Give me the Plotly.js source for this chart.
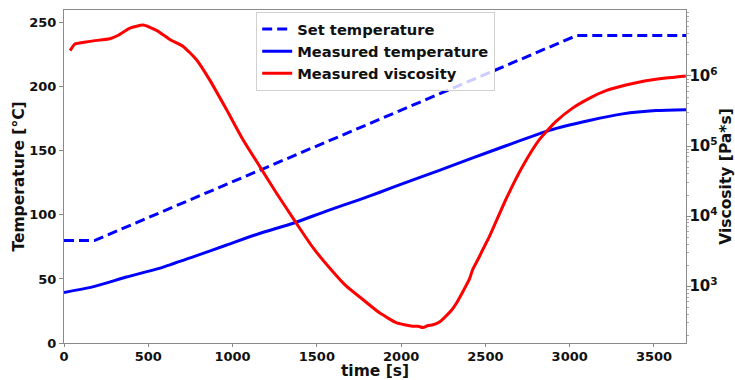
<!DOCTYPE html>
<html>
<head>
<meta charset="utf-8">
<script src="https://cdn.plot.ly/plotly-3.0.1.min.js"></script>
<style>
  html, body { margin: 0; padding: 0; background: #fff; }
  #chart { width: 735px; height: 380px; }
</style>
</head>
<body>
<div id="chart"></div>
<script>
// Set-point temperature program [s, °C]
const setTime = [0, 180, 3040, 3690];
const setTemp = [80, 80, 240, 240];

// Measured sample temperature [s, °C]
const measTime = [0, 175, 370, 570, 770, 965, 1160, 1360, 1556, 1754, 1870, 2010,
                  2227, 2425, 2622, 2879, 3116, 3314, 3512, 3690];
const measTemp = [39.5, 44, 51.5, 58.5, 67.5, 76.5, 85.5, 93.5, 103, 112, 117.5, 124.5,
                  134.8, 144.5, 154, 166, 173.7, 178.9, 181.5, 182.2];

// Measured complex viscosity [s, Pa*s]
const viscTime = [36, 65, 120, 174, 272, 322, 391, 470, 549, 628, 707, 786, 865, 964,
                  1062, 1161, 1260, 1378, 1477, 1576, 1675, 1773, 1872, 1971, 2020,
                  2069, 2100, 2129, 2160, 2188, 2227, 2260, 2300, 2326, 2405, 2425,
                  2464, 2484, 2524, 2622, 2721, 2820, 2919, 3017, 3116, 3215, 3334,
                  3452, 3570, 3689];
const viscValue = [2.29e6, 2.85e6, 3.02e6, 3.16e6, 3.39e6, 3.80e6, 4.79e6, 5.31e6,
                   4.47e6, 3.31e6, 2.63e6, 1.70e6, 8.7e5, 3.31e5, 1.23e5, 5.13e4,
                   2.14e4, 7.94e3, 3.55e3, 1.82e3, 1.0e3, 646, 417, 302, 282, 269,
                   269, 257, 275, 282, 309, 363, 457, 562, 1260, 1740, 2630, 3310,
                   5130, 1.74e4, 5.13e4, 1.23e5, 2.24e5, 3.47e5, 4.79e5, 6.17e5,
                   7.41e5, 8.51e5, 9.33e5, 1.0e6];

const FONT = 'DejaVu Sans, sans-serif';
const tickFont = { family: FONT, size: 13, color: '#111', weight: 'bold' };
const logTickFont = { family: FONT, size: 12, color: '#111', weight: 'bold' };
const titleFont = { family: FONT, size: 15.5, color: '#111', weight: 'bold' };
const frame = '#8a8a8a';

const traces = [
  {
    x: setTime, y: setTemp, name: 'Set temperature', type: 'scatter', mode: 'lines',
    line: { color: '#0000ff', width: 3, dash: '10px,5px' }, yaxis: 'y'
  },
  {
    x: measTime, y: measTemp, name: 'Measured temperature', type: 'scatter', mode: 'lines',
    line: { color: '#0000ff', width: 3, shape: 'spline', smoothing: 0.6 }, yaxis: 'y'
  },
  {
    x: viscTime, y: viscValue, name: 'Measured viscosity', type: 'scatter', mode: 'lines',
    line: { color: '#ff0000', width: 3, shape: 'spline', smoothing: 0.5 }, yaxis: 'y2'
  }
];

const layout = {
  width: 735, height: 380,
  margin: { l: 64, r: 49, t: 10, b: 37 },
  paper_bgcolor: '#fff', plot_bgcolor: '#fff',
  showlegend: true,
  legend: {
    x: 0.309, y: 0.994, xanchor: 'left', yanchor: 'top',
    bgcolor: 'rgba(255,255,255,0.8)', bordercolor: '#d0d0d0', borderwidth: 1,
    font: { family: FONT, size: 14.7, color: '#111', weight: 'bold' }
  },
  xaxis: {
    range: [0, 3690], dtick: 500, tick0: 0,
    showgrid: false, zeroline: false,
    showline: true, mirror: true, linecolor: frame, linewidth: 1,
    ticks: 'outside', ticklen: 3, tickcolor: frame,
    ticklabelstandoff: -2,
    tickfont: tickFont,
    title: { text: 'time [s]', font: titleFont, standoff: 0 }
  },
  yaxis: {
    range: [0, 260], dtick: 50, tick0: 0,
    showgrid: false, zeroline: false,
    showline: true, mirror: true, linecolor: frame, linewidth: 1,
    ticks: 'outside', ticklen: 4, tickcolor: frame,
    tickfont: tickFont,
    title: { text: 'Temperature [°C]', font: titleFont, standoff: 0 }
  },
  yaxis2: {
    type: 'log', overlaying: 'y', side: 'right',
    range: [2.19, 6.94], dtick: 1, exponentformat: 'power',
    showgrid: false, zeroline: false,
    showline: true, linecolor: frame, linewidth: 1,
    ticks: 'outside', ticklen: 4, tickcolor: frame,
    ticklabelstandoff: -4,
    minor: { ticks: 'outside', ticklen: 2, tickcolor: '#aaa', dtick: 'D1', showgrid: false },
    tickfont: logTickFont,
    title: { text: 'Viscosity [Pa*s]', font: titleFont, standoff: 1 }
  }
};

Plotly.newPlot('chart', traces, layout, { displayModeBar: false, staticPlot: true });
</script>
</body>
</html>
